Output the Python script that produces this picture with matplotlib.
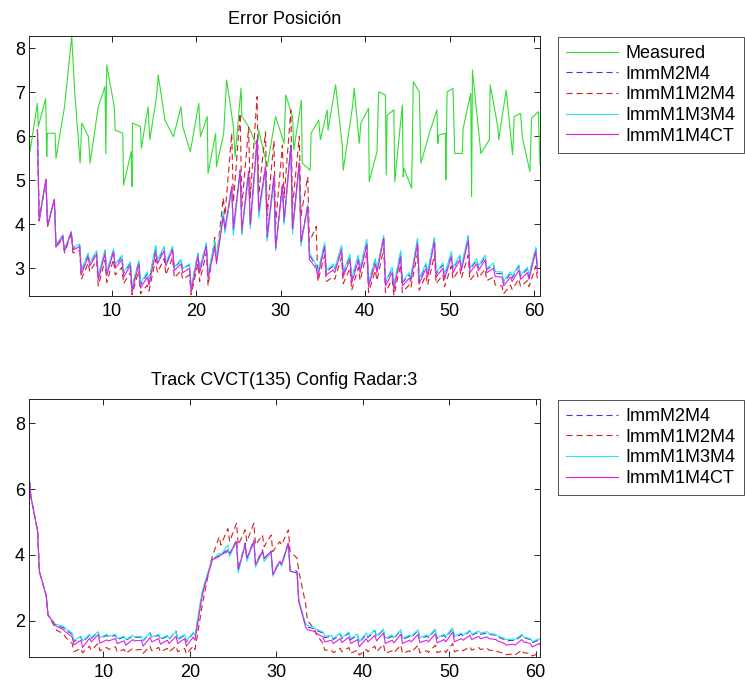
import numpy as np
import matplotlib
matplotlib.use('Agg')
import matplotlib.pyplot as plt

plt.rcParams['font.family'] = ['Liberation Sans', 'DejaVu Sans']

# Measured position error (top plot)
measTime = [0.20, 0.32, 1.19, 1.30, 2.18, 2.30, 2.37, 3.28, 3.40, 4.40,
            5.26, 5.60, 6.25, 6.45, 7.24, 7.43, 8.40, 9.20, 9.30, 9.40,
            10.30, 10.40, 11.30, 11.40, 12.30, 12.40, 12.45, 13.40, 13.50, 14.30,
            14.50, 15.30, 15.50, 16.30, 17.30, 18.20, 18.40, 19.30, 20.30, 20.50,
            21.30, 21.40, 22.30, 22.40, 23.25, 23.60, 24.40, 24.60, 25.30, 25.40,
            26.20, 27.20, 27.40, 28.40, 29.40, 30.40, 30.60, 31.40, 31.55, 32.45,
            32.55, 33.50, 33.60, 34.50, 34.70, 35.50, 35.60, 36.50, 37.30, 37.40,
            38.50, 38.70, 39.30, 39.50, 40.40, 40.48, 41.40, 41.60, 42.40, 42.50,
            42.60, 43.40, 43.50, 44.40, 44.50, 44.60, 45.50, 45.70, 46.40, 46.60,
            47.60, 48.50, 48.60, 48.70, 49.50, 49.55, 49.70, 50.40, 50.60, 51.50,
            51.60, 52.50, 52.60, 52.70, 53.70, 54.70, 54.80, 55.70, 55.80, 56.70,
            57.45, 57.65, 58.40, 58.60, 59.50, 59.70, 60.50, 60.70]
measured = [6.14, 5.65, 6.75, 6.22, 6.86, 5.54, 6.07, 6.07, 5.50, 6.67,
            8.26, 7.05, 5.39, 6.30, 5.99, 5.39, 6.67, 7.13, 5.60, 7.62,
            6.67, 6.14, 6.07, 4.89, 5.65, 4.86, 6.30, 6.22, 5.73, 6.67,
            5.92, 6.90, 7.39, 6.37, 5.99, 6.67, 6.22, 5.65, 6.75, 5.99,
            6.45, 5.16, 6.07, 5.31, 6.07, 7.28, 6.22, 5.54, 7.09, 6.45,
            6.22, 5.77, 6.14, 5.31, 6.45, 5.84, 6.94, 6.45, 5.69, 6.82,
            5.39, 5.23, 6.07, 6.37, 5.92, 6.60, 6.14, 7.17, 5.77, 5.23,
            6.67, 7.09, 5.84, 6.30, 6.64, 4.97, 5.65, 7.01, 6.94, 5.12,
            6.48, 6.60, 4.97, 6.71, 5.08, 5.27, 4.82, 7.24, 7.01, 5.39,
            6.07, 6.60, 5.84, 6.03, 6.07, 5.01, 7.01, 7.09, 5.61, 5.61,
            6.18, 6.98, 4.63, 7.51, 5.61, 5.92, 7.17, 6.22, 5.92, 7.05,
            5.58, 6.45, 6.52, 5.99, 5.20, 6.41, 6.56, 5.35]

# filter outputs, one (predict, update) pair per second
topTime = np.repeat(np.arange(1, 61), 2) + np.tile([0.2, 0.4], 60)
botTime = np.repeat(np.arange(1, 61), 2) + np.tile([0.4, 0.6], 60)

topM2M4 = [6.15, 4.10, 5.00, 3.97, 4.55, 3.50, 3.75, 3.40, 3.83, 3.45,
           3.52, 2.92, 3.32, 3.10, 3.38, 2.80, 3.40, 2.90, 3.42, 3.05,
           3.27, 2.88, 3.12, 2.55, 3.15, 2.62, 2.88, 2.70, 3.50, 3.15,
           3.47, 3.10, 3.48, 3.00, 3.18, 2.98, 3.08, 2.55, 3.33, 2.98,
           3.55, 2.85, 3.55, 3.20, 4.25, 3.85, 4.85, 3.85, 5.25, 3.80,
           5.20, 3.95, 5.90, 4.25, 5.30, 3.70, 5.05, 3.45, 4.90, 4.05,
           5.80, 3.85, 5.40, 3.55, 4.45, 3.30, 3.05, 2.88, 3.55, 2.92,
           3.05, 2.97, 3.48, 2.88, 3.28, 2.75, 3.27, 2.98, 3.62, 2.65,
           3.18, 2.97, 3.72, 2.68, 2.98, 2.58, 3.35, 2.67, 2.85, 2.77,
           3.65, 2.72, 3.08, 2.88, 3.68, 2.87, 3.08, 2.82, 3.35, 2.98,
           3.27, 3.02, 3.72, 2.97, 3.18, 3.02, 3.27, 2.97, 3.08, 2.88,
           2.88, 2.67, 2.88, 2.78, 3.05, 2.82, 2.98, 2.82, 3.45, 2.98]
topM1M2M4 = [6.15, 4.08, 5.02, 3.95, 4.57, 3.46, 3.70, 3.35, 3.78, 3.35,
             3.40, 2.75, 3.12, 2.92, 3.18, 2.60, 3.18, 2.68, 3.20, 2.85,
             3.02, 2.65, 2.90, 2.40, 2.95, 2.42, 2.62, 2.48, 3.20, 2.90,
             3.22, 2.85, 3.25, 2.78, 2.95, 2.75, 2.85, 2.40, 3.10, 2.70,
             3.35, 2.60, 3.70, 3.20, 4.60, 4.20, 6.07, 4.50, 6.52, 4.40,
             6.20, 4.60, 6.90, 4.70, 6.10, 4.20, 5.90, 4.00, 5.80, 4.60,
             6.60, 4.40, 6.00, 4.20, 5.08, 3.60, 3.95, 2.70, 3.30, 2.70,
             2.80, 2.75, 3.25, 2.65, 3.00, 2.50, 3.02, 2.72, 3.35, 2.45,
             2.95, 2.72, 3.45, 2.45, 2.75, 2.38, 3.08, 2.45, 2.62, 2.55,
             3.35, 2.50, 2.85, 2.62, 3.30, 2.65, 2.85, 2.58, 3.05, 2.75,
             3.00, 2.78, 3.30, 2.72, 2.92, 2.78, 2.98, 2.72, 2.80, 2.62,
             2.60, 2.42, 2.62, 2.52, 2.76, 2.58, 2.72, 2.58, 3.05, 2.75]
topM1M3M4 = [6.15, 4.10, 5.00, 3.98, 4.55, 3.52, 3.76, 3.42, 3.84, 3.47,
             3.55, 2.95, 3.35, 3.12, 3.40, 2.82, 3.42, 2.92, 3.44, 3.08,
             3.30, 2.90, 3.15, 2.58, 3.18, 2.65, 2.92, 2.72, 3.52, 3.18,
             3.50, 3.12, 3.50, 3.02, 3.20, 3.00, 3.10, 2.58, 3.35, 3.00,
             3.58, 2.88, 3.62, 3.25, 4.30, 3.80, 4.80, 3.75, 5.20, 3.75,
             5.15, 3.90, 5.85, 4.15, 5.25, 3.62, 5.00, 3.40, 4.85, 4.00,
             5.75, 3.78, 5.35, 3.50, 4.45, 3.35, 3.08, 2.92, 3.58, 2.95,
             3.10, 3.00, 3.52, 2.92, 3.32, 2.78, 3.30, 3.00, 3.66, 2.68,
             3.22, 3.00, 3.75, 2.70, 3.02, 2.62, 3.40, 2.70, 2.90, 2.80,
             3.68, 2.75, 3.12, 2.92, 3.70, 2.90, 3.12, 2.85, 3.38, 3.00,
             3.30, 3.05, 3.75, 3.00, 3.22, 3.05, 3.30, 3.00, 3.12, 2.92,
             2.92, 2.70, 2.92, 2.82, 3.08, 2.85, 3.02, 2.85, 3.48, 3.00]
topM1M4CT = [6.15, 4.08, 5.02, 3.96, 4.57, 3.48, 3.73, 3.38, 3.82, 3.42,
             3.49, 2.86, 3.26, 3.05, 3.32, 2.73, 3.34, 2.83, 3.37, 3.00,
             3.20, 2.80, 3.06, 2.47, 3.10, 2.55, 2.80, 2.62, 3.37, 3.10,
             3.40, 3.05, 3.43, 2.95, 3.10, 2.90, 3.00, 2.47, 3.27, 2.90,
             3.50, 2.77, 3.49, 3.10, 4.17, 3.90, 4.85, 3.90, 5.23, 3.85,
             5.20, 4.00, 5.92, 4.30, 5.30, 3.72, 5.10, 3.46, 4.90, 4.10,
             5.76, 3.90, 5.40, 3.60, 4.40, 3.20, 3.00, 2.81, 3.49, 2.85,
             2.96, 2.90, 3.42, 2.81, 3.19, 2.66, 3.19, 2.90, 3.53, 2.58,
             3.10, 2.90, 3.68, 2.60, 2.90, 2.50, 3.26, 2.60, 2.77, 2.70,
             3.57, 2.65, 3.00, 2.80, 3.60, 2.80, 3.00, 2.75, 3.26, 2.90,
             3.19, 2.95, 3.64, 2.90, 3.10, 2.95, 3.19, 2.90, 3.00, 2.81,
             2.80, 2.60, 2.80, 2.70, 2.96, 2.75, 2.90, 2.75, 3.38, 2.90]

# Track CVCT(135) (bottom plot)
botM2M4 = [6.48, 5.80, 4.71, 3.49, 2.75, 2.17, 1.88, 1.85, 1.78, 1.72,
           1.58, 1.35, 1.50, 1.35, 1.55, 1.45, 1.65, 1.45, 1.55, 1.50,
           1.55, 1.42, 1.50, 1.40, 1.52, 1.48, 1.50, 1.38, 1.62, 1.48,
           1.55, 1.42, 1.52, 1.42, 1.68, 1.42, 1.55, 1.35, 1.62, 1.52,
           2.80, 3.00, 3.70, 3.85, 3.98, 4.02, 4.15, 4.00, 4.45, 3.55,
           4.35, 3.88, 4.45, 3.70, 4.15, 3.88, 4.12, 3.40, 3.82, 3.70,
           4.38, 3.55, 3.50, 2.60, 1.85, 1.80, 1.75, 1.70, 1.62, 1.48,
           1.52, 1.42, 1.58, 1.45, 1.62, 1.42, 1.55, 1.32, 1.58, 1.48,
           1.68, 1.50, 1.72, 1.42, 1.52, 1.45, 1.70, 1.42, 1.52, 1.48,
           1.70, 1.45, 1.52, 1.48, 1.72, 1.45, 1.55, 1.48, 1.75, 1.48,
           1.58, 1.52, 1.68, 1.55, 1.65, 1.58, 1.62, 1.58, 1.55, 1.50,
           1.42, 1.38, 1.40, 1.38, 1.55, 1.48, 1.42, 1.32, 1.42, 1.35]
botM1M2M4 = [6.48, 5.80, 4.71, 3.49, 2.75, 2.17, 1.80, 1.70, 1.60, 1.50,
             1.30, 1.05, 1.15, 1.02, 1.22, 1.10, 1.30, 1.08, 1.18, 1.12,
             1.20, 1.05, 1.12, 1.00, 1.15, 1.10, 1.12, 1.00, 1.22, 1.08,
             1.18, 1.05, 1.15, 1.05, 1.22, 1.05, 1.15, 0.98, 1.22, 1.12,
             2.40, 2.70, 3.75, 3.95, 4.55, 4.30, 4.80, 4.40, 4.96, 4.30,
             4.76, 4.40, 4.96, 4.30, 4.60, 4.25, 4.60, 4.10, 4.40, 4.30,
             4.76, 4.10, 3.90, 3.50, 2.50, 2.00, 1.75, 1.60, 1.30, 1.10,
             1.10, 1.02, 1.15, 1.05, 1.18, 1.00, 1.10, 0.95, 1.12, 1.05,
             1.22, 1.05, 1.28, 1.00, 1.08, 1.02, 1.25, 1.00, 1.08, 1.03,
             1.25, 1.02, 1.08, 1.03, 1.25, 1.02, 1.10, 1.03, 1.30, 1.05,
             1.12, 1.08, 1.20, 1.10, 1.18, 1.12, 1.15, 1.10, 1.08, 1.05,
             1.00, 0.96, 0.98, 0.95, 1.10, 1.02, 1.00, 0.92, 1.00, 0.92]
botM1M3M4 = [6.48, 5.80, 4.71, 3.49, 2.75, 2.17, 1.90, 1.88, 1.82, 1.76,
             1.62, 1.40, 1.52, 1.38, 1.58, 1.48, 1.66, 1.48, 1.58, 1.52,
             1.58, 1.45, 1.52, 1.42, 1.55, 1.50, 1.52, 1.40, 1.64, 1.50,
             1.58, 1.45, 1.55, 1.45, 1.66, 1.45, 1.58, 1.38, 1.64, 1.55,
             2.85, 3.05, 3.72, 3.85, 4.05, 4.00, 4.30, 3.95, 4.40, 3.45,
             4.30, 3.80, 4.40, 3.62, 4.10, 3.80, 4.05, 3.35, 3.78, 3.65,
             4.30, 3.50, 3.45, 2.62, 1.90, 1.85, 1.80, 1.74, 1.65, 1.52,
             1.55, 1.46, 1.62, 1.48, 1.65, 1.46, 1.58, 1.36, 1.62, 1.52,
             1.72, 1.53, 1.74, 1.46, 1.56, 1.48, 1.72, 1.46, 1.56, 1.52,
             1.72, 1.48, 1.56, 1.52, 1.74, 1.48, 1.58, 1.52, 1.78, 1.52,
             1.62, 1.55, 1.70, 1.58, 1.68, 1.62, 1.66, 1.60, 1.58, 1.53,
             1.46, 1.42, 1.44, 1.42, 1.58, 1.50, 1.45, 1.36, 1.45, 1.38]
botM1M4CT = [6.48, 5.80, 4.71, 3.49, 2.75, 2.17, 1.87, 1.82, 1.72, 1.66,
             1.50, 1.26, 1.40, 1.18, 1.46, 1.35, 1.57, 1.31, 1.41, 1.38,
             1.45, 1.30, 1.38, 1.25, 1.42, 1.38, 1.40, 1.22, 1.48, 1.35,
             1.45, 1.28, 1.40, 1.30, 1.52, 1.30, 1.45, 1.22, 1.50, 1.40,
             2.70, 2.95, 3.65, 3.85, 3.95, 4.00, 4.10, 4.05, 4.40, 3.55,
             4.30, 3.90, 4.40, 3.70, 4.10, 3.90, 4.10, 3.40, 3.80, 3.70,
             4.35, 3.50, 3.44, 2.58, 1.80, 1.72, 1.67, 1.62, 1.50, 1.35,
             1.40, 1.30, 1.45, 1.33, 1.50, 1.30, 1.42, 1.20, 1.45, 1.35,
             1.55, 1.38, 1.62, 1.30, 1.40, 1.32, 1.58, 1.30, 1.40, 1.35,
             1.58, 1.33, 1.40, 1.35, 1.60, 1.32, 1.42, 1.35, 1.65, 1.35,
             1.45, 1.40, 1.55, 1.42, 1.52, 1.45, 1.50, 1.45, 1.42, 1.38,
             1.30, 1.25, 1.28, 1.25, 1.42, 1.35, 1.30, 1.20, 1.30, 1.22]

filterNames = ['ImmM2M4', 'ImmM1M2M4', 'ImmM1M3M4', 'ImmM1M4CT']
filterColors = ['#3a3ae0', '#d42020', '#22e8e8', '#e020e0']
filterStyles = ['--', '--', '-', '-']

fs = 13

fig = plt.figure(figsize=(7.45, 6.86), dpi=100)

def style_axes(ax):
    ax.tick_params(direction='in', length=4, width=0.6, labelsize=fs,
                   top=True, right=True)
    ax.tick_params(axis='x', pad=5)
    ax.tick_params(axis='y', pad=3)
    for sp in ax.spines.values():
        sp.set_linewidth(0.7)
        sp.set_color('#222222')

def add_legend(ax, ytop):
    leg = ax.legend(loc='upper left', bbox_to_anchor=(558/745, ytop),
                    bbox_transform=fig.transFigure, fontsize=fs, frameon=True,
                    fancybox=False, handlelength=2.9, handletextpad=0.4,
                    labelspacing=0.2, borderpad=0.45, borderaxespad=0)
    leg.get_frame().set_edgecolor('#222222')
    leg.get_frame().set_linewidth(0.7)
    return leg

#Top plot: measured + filters
ax1 = fig.add_axes([29/745, 1-296/686, 511/745, 260/686])
ax1.plot(measTime, measured, color='#33dd33', lw=0.8, label='Measured')
for vals, name, col, ls in zip([topM2M4, topM1M2M4, topM1M3M4, topM1M4CT],
                               filterNames, filterColors, filterStyles):
    ax1.plot(topTime, vals, color=col, ls=ls, lw=0.8, label=name,
             dashes=(5.5, 3.5) if ls == '--' else (None, None))
ax1.set_xlim(0.2, 60.7)
ax1.set_ylim(2.37, 8.28)
ax1.set_xticks([10, 20, 30, 40, 50, 60])
ax1.set_yticks([3, 4, 5, 6, 7, 8])
ax1.set_title('Error Posición', fontsize=fs, pad=9)
style_axes(ax1)
add_legend(ax1, 1-37/686)

#Bottom plot: filters only
ax2 = fig.add_axes([29/745, 1-657/686, 511/745, 258/686])
for vals, name, col, ls in zip([botM2M4, botM1M2M4, botM1M3M4, botM1M4CT],
                               filterNames, filterColors, filterStyles):
    ax2.plot(botTime, vals, color=col, ls=ls, lw=0.8, label=name,
             dashes=(5.5, 3.5) if ls == '--' else (None, None))
ax2.set_xlim(1.4, 60.5)
ax2.set_ylim(0.89, 8.74)
ax2.set_xticks([10, 20, 30, 40, 50, 60])
ax2.set_yticks([2, 4, 6, 8])
ax2.set_title('Track CVCT(135) Config Radar:3', fontsize=fs, pad=10)
style_axes(ax2)
add_legend(ax2, 1-400/686)

fig.savefig('out.png', dpi=100)
